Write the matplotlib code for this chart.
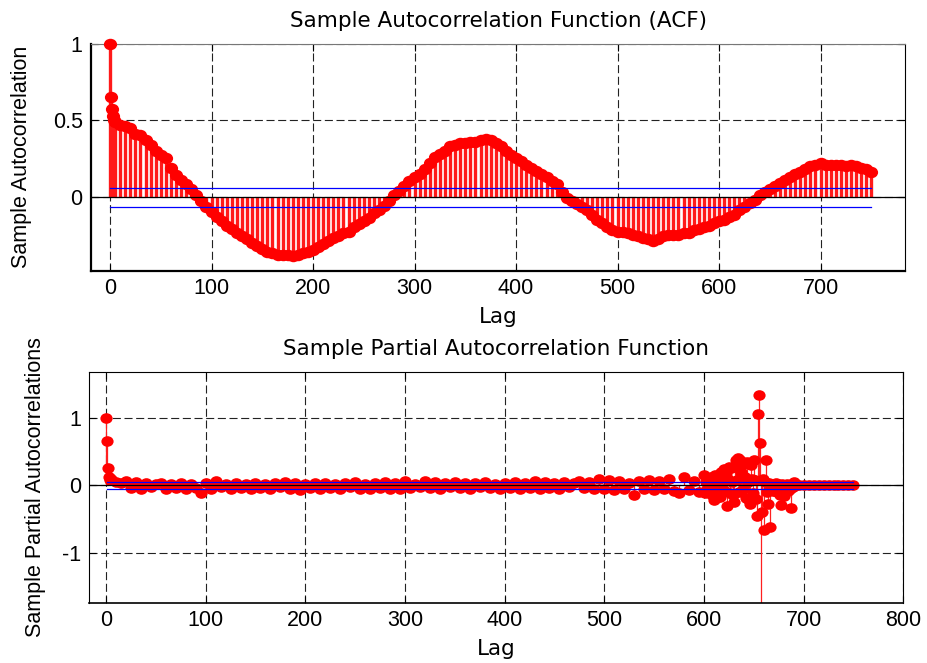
import numpy as np
import matplotlib
matplotlib.use("Agg")
import matplotlib.pyplot as plt
from matplotlib.path import Path
from matplotlib.transforms import Affine2D

plt.rcParams['font.family'] = ['Liberation Sans', 'DejaVu Sans']
plt.rcParams['lines.scale_dashes'] = False

# ---------------- data ----------------
# ACF: lags 0-4 individually, then every 5 lags up to 750
acf_head = [1.00, 0.65, 0.57, 0.53, 0.50]
acf_body = [
    0.49, 0.47, 0.46, 0.45, 0.41, 0.40, 0.37, 0.34, 0.30, 0.27,
    0.25, 0.19, 0.14, 0.11, 0.08, 0.05, 0.01, -0.03, -0.07, -0.10,
    -0.13, -0.16, -0.19, -0.21, -0.24, -0.26, -0.28, -0.30, -0.32, -0.34,
    -0.36, -0.37, -0.38, -0.38, -0.38, -0.39, -0.38, -0.37, -0.36, -0.35,
    -0.33, -0.31, -0.29, -0.27, -0.26, -0.24, -0.23, -0.20, -0.18, -0.16,
    -0.14, -0.11, -0.09, -0.06, -0.03, 0.01, 0.04, 0.07, 0.10, 0.13,
    0.15, 0.18, 0.22, 0.26, 0.28, 0.30, 0.33, 0.34, 0.35, 0.35,
    0.36, 0.36, 0.37, 0.38, 0.37, 0.35, 0.33, 0.30, 0.27, 0.25,
    0.23, 0.21, 0.19, 0.17, 0.15, 0.13, 0.10, 0.08, 0.03, -0.01,
    -0.03, -0.05, -0.07, -0.09, -0.12, -0.15, -0.17, -0.20, -0.22, -0.23,
    -0.23, -0.24, -0.25, -0.26, -0.27, -0.28, -0.29, -0.28, -0.26, -0.25,
    -0.25, -0.25, -0.24, -0.24, -0.22, -0.21, -0.20, -0.19, -0.17, -0.16,
    -0.15, -0.13, -0.12, -0.09, -0.07, -0.04, -0.02, 0.01, 0.03, 0.05,
    0.07, 0.09, 0.11, 0.13, 0.15, 0.16, 0.18, 0.20, 0.21, 0.22,
    0.21, 0.21, 0.21, 0.21, 0.20, 0.21, 0.20, 0.19, 0.18, 0.16,
]
acf_lags = np.concatenate([np.arange(0, 5), np.arange(5, 751, 5)])
acf_vals = np.array(acf_head + acf_body)
acf_bounds = [0.055, -0.065]

# PACF
pacf_head = [1.00, 0.65, 0.26, 0.13, 0.08]          # lags 0-4
pacf_body = [                                        # lags 5..595 step 5
    0.10, 0.05, 0.03, 0.07, -0.04, 0.05, -0.06, 0.04, -0.03, 0.02,
    0.04, -0.06, 0.02, -0.04, 0.03, -0.05, 0.02, -0.04, -0.12, 0.03,
    -0.05, 0.06, -0.03, 0.02, -0.05, 0.03, -0.04, 0.02, -0.06, 0.03,
    -0.04, 0.02, -0.05, 0.04, -0.03, 0.05, -0.06, 0.03, -0.07, 0.02,
    -0.04, 0.04, -0.05, 0.03, -0.04, 0.02, -0.06, 0.04, -0.03, 0.05,
    -0.05, 0.02, -0.06, 0.03, -0.04, 0.05, -0.06, 0.04, -0.05, 0.06,
    -0.04, 0.02, -0.03, 0.07, -0.04, 0.05, -0.05, 0.04, -0.03, 0.05,
    -0.04, 0.03, -0.05, 0.04, -0.03, 0.05, -0.04, 0.02, -0.05, 0.03,
    -0.04, 0.05, -0.06, 0.03, -0.04, 0.06, -0.05, 0.05, -0.04, 0.03,
    -0.05, 0.05, -0.03, 0.04, 0.06, -0.04, 0.05, -0.06, 0.10, -0.05,
    0.08, -0.07, 0.07, -0.06, 0.03, -0.15, 0.07, -0.06, 0.08, -0.07,
    0.06, -0.05, 0.10, -0.08, -0.12, 0.12, -0.07, 0.06, -0.10,
]
pacf_tail = [                                        # lags 600..692 step 1
    0.15, -0.12, 0.05, -0.06, 0.10, -0.08, 0.02, 0.12, -0.15, 0.04,
    -0.22, 0.15, -0.18, 0.08, -0.05, 0.13, -0.17, 0.20, -0.10, 0.05,
    0.24, -0.08, 0.18, -0.31, 0.10, 0.27, -0.12, 0.26, 0.05, -0.15,
    -0.25, 0.28, 0.38, 0.08, 0.40, -0.10, 0.38, 0.20, 0.30, -0.05,
    0.33, 0.12, -0.18, 0.35, 0.05, -0.22, -0.28, 0.30, 0.10, -0.12,
    0.38, 0.08, -0.20, -0.46, 1.06, 1.33, 0.62, -3.50, -0.39, 0.10,
    -0.66, 0.05, 0.38, -0.10, -0.28, 0.03, -0.61, -0.05, 0.02, -0.08,
    0.00, -0.05, 0.03, -0.10, 0.02, -0.06, -0.14, -0.29, 0.02, -0.05,
    -0.16, 0.01, -0.04, 0.02, -0.08, 0.01, -0.05, -0.33, 0.02, -0.03,
    0.05, 0.00, 0.01,
]
pacf_end = [0.01, 0.00, 0.00, 0.01, 0.00, 0.00,      # lags 695..750 step 5
            0.00, 0.00, 0.00, 0.00, 0.00, 0.00]
pacf_lags = np.concatenate([np.arange(0, 5), np.arange(5, 600, 5),
                            np.arange(600, 693), np.arange(695, 751, 5)])
pacf_vals = np.array(pacf_head + pacf_body + pacf_tail + pacf_end)
pacf_bounds = [0.044, -0.050]

acf_xticks = [0, 100, 200, 300, 400, 500, 600, 700]
acf_yticks = [0, 0.5, 1]
acf_yticklabels = ['0', '0.5', '1']
pacf_xticks = [0, 100, 200, 300, 400, 500, 600, 700, 800]
pacf_yticks = [-1, 0, 1]
pacf_yticklabels = ['-1', '0', '1']

# ---------------- figure ----------------
FS = 15.5
WIDE = ['DejaVu Sans']
fig = plt.figure(figsize=(9.27, 6.63), dpi=100)
ax1 = fig.add_axes([0.0982, 0.5917, 0.8781, 0.3424])
ax2 = fig.add_axes([0.0963, 0.0910, 0.8781, 0.3484])

grid_kw = dict(color='#222222', linestyle=(0, (5.8, 2.6)), linewidth=0.8)

# slightly wide filled circle (the reference is horizontally stretched)
_circ = Path.unit_circle()
ellipse = _circ.transformed(Affine2D().scale(1.15, 1.0))


def style(ax, xticks, yticks, yticklabels, xlim, ylim):
    ax.set_xlim(*xlim)
    ax.set_ylim(*ylim)
    ax.set_xticks(xticks)
    ax.set_xticklabels([str(t) for t in xticks])
    ax.set_yticks(yticks)
    ax.set_yticklabels(yticklabels)
    ax.grid(True, **grid_kw)
    ax.set_axisbelow(True)
    ax.tick_params(direction='in', length=5, width=0.8, top=True, right=True,
                   labelsize=FS, pad=5)
    ax.tick_params(axis='y', pad=6)
    for s in ax.spines.values():
        s.set_linewidth(0.8)
        s.set_color('black')


# ---- ACF ----
style(ax1, acf_xticks, acf_yticks, acf_yticklabels, (-18.7, 783.2), (-0.484, 1.0))
ax1.spines['left'].set_linewidth(1.6)
ax1.spines['bottom'].set_linewidth(1.6)
ax1.spines['top'].set_color('#777777')
ax1.vlines(acf_lags, 0, acf_vals, color='#ff1a1a', linewidth=2.4, zorder=2)
ax1.plot(acf_lags, acf_vals, linestyle='none', marker=ellipse, color='red',
         markersize=9.5, markeredgewidth=0, zorder=3, clip_on=False)
ax1.axhline(0, color='black', linewidth=0.9, zorder=4)
for b in acf_bounds:
    ax1.plot([acf_lags[0], acf_lags[-1]], [b, b], color='blue', linewidth=0.9, zorder=4)
ax1.set_title('Sample Autocorrelation Function (ACF)', fontsize=FS, pad=12,
              family=WIDE)
ax1.set_xlabel('Lag', fontsize=FS, labelpad=6, family=WIDE)
ax1.set_ylabel('Sample Autocorrelation', fontsize=FS)
ax1.yaxis.set_label_coords(-0.073, 0.5)

# ---- PACF ----
style(ax2, pacf_xticks, pacf_yticks, pacf_yticklabels, (-16.8, 800.0), (-1.734, 1.68))
ax2.spines['bottom'].set_linewidth(1.2)
ax2.vlines(pacf_lags, 0, pacf_vals, color='#ff2020', linewidth=0.9, zorder=2)
ax2.plot(pacf_lags, pacf_vals, linestyle='none', marker=ellipse, color='red',
         markersize=8.8, markeredgewidth=0, zorder=3)
ax2.axhline(0, color='black', linewidth=0.9, zorder=4)
for b in pacf_bounds:
    ax2.plot([1, 750], [b, b], color='blue', linewidth=0.9, zorder=4)
ax2.set_title('Sample Partial Autocorrelation Function', fontsize=FS, pad=12,
              family=WIDE)
ax2.set_xlabel('Lag', fontsize=FS, labelpad=6, family=WIDE)
ax2.set_ylabel('Sample Partial Autocorrelations', fontsize=FS)
ax2.yaxis.set_label_coords(-0.0535, 0.5)

fig.savefig('out.png', dpi=100)
